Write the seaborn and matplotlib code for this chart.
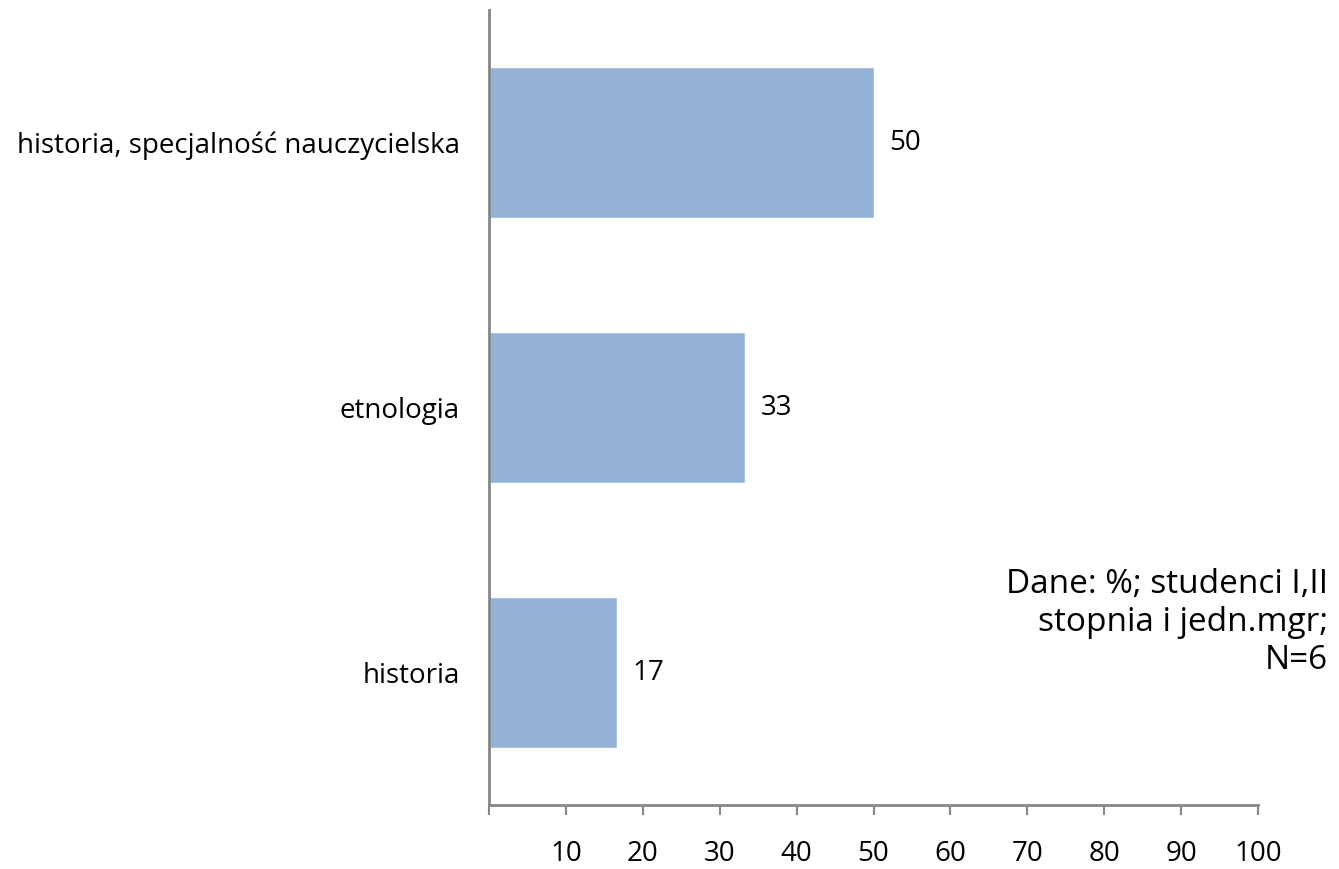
import pandas as pd
import numpy as np
import seaborn as sns
import matplotlib.pyplot as plt

# dane
kategorie = ["historia, specjalność nauczycielska", "etnologia", "historia"]
wartosci = [50.0, 33.3, 16.7]
etykiety = ["50", "33", "17"]
ticki = [0, 10, 20, 30, 40, 50, 60, 70, 80, 90, 100]
tick_etykiety = ["", "10", "20", "30", "40", "50", "60", "70", "80", "90", "100"]
notka = "Dane: %; studenci I,II\nstopnia i jedn.mgr;\nN=6"

sns.set_style("white")
plt.rcParams["font.family"] = ["Open Sans", "DejaVu Sans"]
plt.rcParams["text.color"] = "black"
plt.rcParams["xtick.labelcolor"] = "black"
plt.rcParams["ytick.labelcolor"] = "black"

df = pd.DataFrame({"kierunek": kategorie, "procent": wartosci})

fig = plt.figure(figsize=(13.39, 8.69), dpi=100)
ax = fig.add_axes([489 / 1339, 1 - 805 / 869, (1258 - 489) / 1339, (805 - 10) / 869])

sns.barplot(data=df, x="procent", y="kierunek", orient="h", color="#95B3D7",
            saturation=1, width=0.57, ax=ax)

for i, (v, t) in enumerate(zip(wartosci, etykiety)):
    ax.text(v + 2.0, i, t, va="center", ha="left", fontsize=20)

ax.set_xlim(0, 100)
ax.set_xticks(ticki)
ax.set_xticklabels(tick_etykiety, fontsize=20)
ax.set_xlabel("")
ax.set_ylabel("")
ax.tick_params(axis="x", bottom=True, direction="out", length=7, width=1.5,
               color="#868686", pad=18)
ax.tick_params(axis="y", left=False, length=0, pad=21, labelsize=20)

for s in ["top", "right"]:
    ax.spines[s].set_visible(False)
for s in ["left", "bottom"]:
    ax.spines[s].set_color("#868686")
    ax.spines[s].set_linewidth(2)

fig.text(1328 / 1339, 1 - 568 / 869, notka, ha="right", va="top", fontsize=24,
         linespacing=1.2)

fig.savefig("out.png", dpi=100)
